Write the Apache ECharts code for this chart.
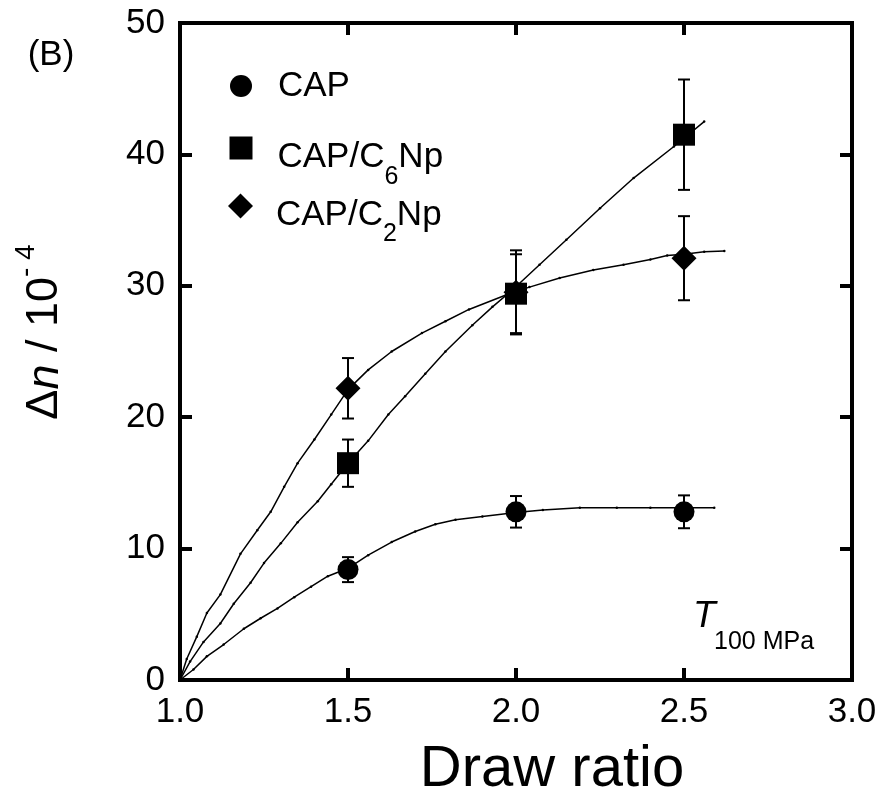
<!DOCTYPE html>
<html><head><meta charset="utf-8">
<script src="https://cdn.jsdelivr.net/npm/echarts@6/dist/echarts.min.js"></script>
<style>html,body{margin:0;padding:0;background:#fff}#c{width:883px;height:794px}</style>
</head><body><div id="c"></div>
<script>
// ---- data ----
const drawRatio = [1.5, 2.0, 2.5];
const capValues = [8.4, 12.8, 12.8];
const capErrors = [0.95, 1.2, 1.25];
const c6Values = [16.5, 29.4, 41.5];
const c6Errors = [1.8, 3.0, 4.2];
const c2Values = [22.2, 29.5, 32.1];
const c2Errors = [2.3, 3.2, 3.2];

const capFitX = [1.0, 1.04, 1.08, 1.13, 1.19, 1.24, 1.29, 1.34, 1.39, 1.44, 1.5, 1.56, 1.63, 1.7, 1.76, 1.82, 1.9, 2.0, 2.08, 2.19, 2.3, 2.4, 2.5, 2.59];
const capFitY = [0, 0.8, 1.8, 2.7, 3.9, 4.7, 5.45, 6.3, 7.1, 7.9, 8.5, 9.5, 10.5, 11.3, 11.85, 12.2, 12.45, 12.75, 12.94, 13.1, 13.1, 13.1, 13.1, 13.1];
const c6FitX = [1.0, 1.03, 1.07, 1.12, 1.16, 1.21, 1.25, 1.3, 1.35, 1.41, 1.45, 1.5, 1.56, 1.62, 1.67, 1.73, 1.79, 1.87, 1.93, 1.99, 2.07, 2.15, 2.25, 2.35, 2.47, 2.56];
const c6FitY = [0, 1.4, 2.9, 4.3, 5.8, 7.4, 8.9, 10.4, 12.0, 13.6, 14.9, 16.5, 18.2, 20.2, 21.6, 23.3, 25.0, 27.0, 28.4, 29.7, 31.6, 33.5, 35.9, 38.2, 40.6, 42.5];
const c2FitX = [1.0, 1.02, 1.05, 1.08, 1.12, 1.18, 1.23, 1.27, 1.31, 1.35, 1.4, 1.45, 1.5, 1.56, 1.63, 1.72, 1.79, 1.86, 1.97, 2.04, 2.13, 2.23, 2.32, 2.4, 2.45, 2.5, 2.56, 2.62];
const c2FitY = [0, 1.6, 3.3, 5.1, 6.5, 9.6, 11.4, 12.8, 14.7, 16.5, 18.3, 20.2, 22.1, 23.6, 25.0, 26.4, 27.3, 28.2, 29.3, 29.9, 30.6, 31.2, 31.6, 32.0, 32.3, 32.4, 32.6, 32.65];

const xTicks = [1.0, 1.5, 2.0, 2.5, 3.0];
const yTicks = [0, 10, 20, 30, 40, 50];
const seriesNames = ['CAP', 'CAP/C6Np', 'CAP/C2Np'];

// ---- helpers ----
const FONT = "'Liberation Sans', Arial, sans-serif";
const zip = (xs, ys) => xs.map((x, i) => [x, ys[i]]);
const errData = (vals, errs) => drawRatio.map((x, i) => [x, vals[i] - errs[i], vals[i] + errs[i]]);

function errRender(params, api) {
  const x = api.value(0);
  const lo = api.coord([x, api.value(1)]);
  const hi = api.coord([x, api.value(2)]);
  const w = 6;
  const st = { stroke: '#000', lineWidth: 2 };
  return { type: 'group', children: [
    { type: 'line', shape: { x1: hi[0], y1: hi[1], x2: lo[0], y2: lo[1] }, style: st },
    { type: 'line', shape: { x1: hi[0] - w, y1: hi[1], x2: hi[0] + w, y2: hi[1] }, style: st },
    { type: 'line', shape: { x1: lo[0] - w, y1: lo[1], x2: lo[0] + w, y2: lo[1] }, style: st }
  ]};
}

const axisLineStyle = { color: '#000', width: 4, cap: 'square' };
const xMin = xTicks[0], xMax = xTicks[xTicks.length - 1], xInt = xTicks[1] - xTicks[0];
const yMin = yTicks[0], yMax = yTicks[yTicks.length - 1], yInt = yTicks[1] - yTicks[0];

const fitLine = (name, data) => ({
  name, type: 'line', data, xAxisIndex: 0, yAxisIndex: 0,
  symbol: 'circle', symbolSize: 2.5, showSymbol: true,
  lineStyle: { color: '#000', width: 1.5 }, itemStyle: { color: '#000' },
  z: 2, silent: true
});
const errSeries = (name, vals, errs) => ({
  name, type: 'custom', data: errData(vals, errs), renderItem: errRender,
  xAxisIndex: 0, yAxisIndex: 0, z: 3, silent: true
});
const scatter = (name, vals, symbol, size) => ({
  name, type: 'scatter', data: zip(drawRatio, vals), symbol, symbolSize: size,
  itemStyle: { color: '#000', opacity: 1 }, xAxisIndex: 0, yAxisIndex: 0, z: 5
});

const mTxt = { fontSize: 35, fontFamily: FONT, color: '#000' };
const sTxt = { fontSize: 25, fontFamily: FONT, color: '#000' };

const option = {
  animation: false,
  backgroundColor: '#fff',
  textStyle: { fontFamily: FONT, color: '#000' },
  grid: { left: 180, right: 31, top: 23, bottom: 114, containLabel: false, outerBoundsMode: 'none' },
  xAxis: [
    { type: 'value', position: 'bottom', min: xMin, max: xMax, interval: xInt,
      axisLine: { show: true, onZero: false, lineStyle: axisLineStyle },
      axisTick: { show: true, inside: true, length: 12, lineStyle: { color: '#000', width: 4 } },
      axisLabel: { show: true, margin: 15, fontSize: 35, fontFamily: FONT, color: '#000',
        formatter: v => v.toFixed(1) },
      splitLine: { show: false },
      name: 'Draw ratio', nameLocation: 'middle', nameGap: 61,
      nameTextStyle: { fontSize: 58, fontFamily: FONT, color: '#000', padding: [0, 0, 0, 72] } },
    { type: 'value', position: 'top', min: xMin, max: xMax, interval: xInt,
      axisLine: { show: true, onZero: false, lineStyle: axisLineStyle },
      axisTick: { show: true, inside: true, length: 12, lineStyle: { color: '#000', width: 4 } },
      axisLabel: { show: false }, splitLine: { show: false } }
  ],
  yAxis: [
    { type: 'value', position: 'left', min: yMin, max: yMax, interval: yInt,
      axisLine: { show: true, onZero: false, lineStyle: axisLineStyle },
      axisTick: { show: true, inside: true, length: 12, lineStyle: { color: '#000', width: 4 } },
      axisLabel: { show: true, margin: 15, fontSize: 35, fontFamily: FONT, color: '#000' },
      splitLine: { show: false } },
    { type: 'value', position: 'right', min: yMin, max: yMax, interval: yInt,
      axisLine: { show: true, onZero: false, lineStyle: axisLineStyle },
      axisTick: { show: true, inside: true, length: 12, lineStyle: { color: '#000', width: 4 } },
      axisLabel: { show: false }, splitLine: { show: false } }
  ],
  legend: [
    { data: [seriesNames[0]], orient: 'vertical', left: 230, top: 68.5, padding: 0,
      icon: 'circle', itemWidth: 22, itemHeight: 22, selectedMode: false,
      formatter: '{p|}{m|CAP}',
      textStyle: { rich: { p: { width: 21, height: 35 }, m: Object.assign({ height: 35 }, mTxt) } } },
    { data: [seriesNames[1]], orient: 'vertical', left: 229.5, top: 136.5, padding: 0,
      icon: 'rect', itemWidth: 23, itemHeight: 23, selectedMode: false,
      formatter: '{p|}{m|CAP/C}{s|6}{m|Np}',
      textStyle: { rich: {
        p: { width: 20, height: 62 },
        m: Object.assign({ height: 44, verticalAlign: 'bottom' }, mTxt),
        s: Object.assign({ height: 4, verticalAlign: 'bottom' }, sTxt) } } },
    { data: [seriesNames[2]], orient: 'vertical', left: 228, top: 193.5, padding: 0,
      icon: 'diamond', itemWidth: 25, itemHeight: 25, selectedMode: false,
      formatter: '{p|}{m|CAP/C}{s|2}{m|Np}',
      textStyle: { rich: {
        p: { width: 18, height: 66 },
        m: Object.assign({ height: 48, verticalAlign: 'bottom' }, mTxt),
        s: Object.assign({ height: 10, verticalAlign: 'bottom' }, sTxt) } } }
  ],
  graphic: [
    { type: 'text', x: 51, y: 55, style: { text: '(B)', font: "35px " + FONT, fill: '#000', align: 'center', verticalAlign: 'middle' } },
    { type: 'text', x: 45, y: 332, rotation: Math.PI / 2,
      style: { text: '{m|Δ}{i|n}{m| / 10}{s|- 4}', align: 'center', verticalAlign: 'middle', fill: '#000',
        rich: {
          m: { fontSize: 45, fontFamily: FONT, height: 52, fill: '#000' },
          i: { fontSize: 45, fontFamily: FONT, fontStyle: 'italic', height: 52, fill: '#000' },
          s: { fontSize: 28, fontFamily: FONT, height: 14, verticalAlign: 'top', fill: '#000' } } } },
    { type: 'text', x: 693, y: 616.5, style: { text: 'T', font: "italic 37px " + FONT, fill: '#000', align: 'left', verticalAlign: 'middle' } },
    { type: 'text', x: 714, y: 642, style: { text: '100 MPa', font: "25px " + FONT, fill: '#000', align: 'left', verticalAlign: 'middle' } }
  ],
  series: [
    fitLine('CAP fit', zip(capFitX, capFitY)),
    fitLine('CAP/C6Np fit', zip(c6FitX, c6FitY)),
    fitLine('CAP/C2Np fit', zip(c2FitX, c2FitY)),
    errSeries('CAP err', capValues, capErrors),
    errSeries('CAP/C6Np err', c6Values, c6Errors),
    errSeries('CAP/C2Np err', c2Values, c2Errors),
    scatter(seriesNames[0], capValues, 'circle', 21),
    scatter(seriesNames[1], c6Values, 'rect', 22),
    scatter(seriesNames[2], c2Values, 'diamond', 25)
  ]
};

const chart = echarts.init(document.getElementById('c'), null, { renderer: 'canvas' });
chart.setOption(option);
</script>
</body></html>
